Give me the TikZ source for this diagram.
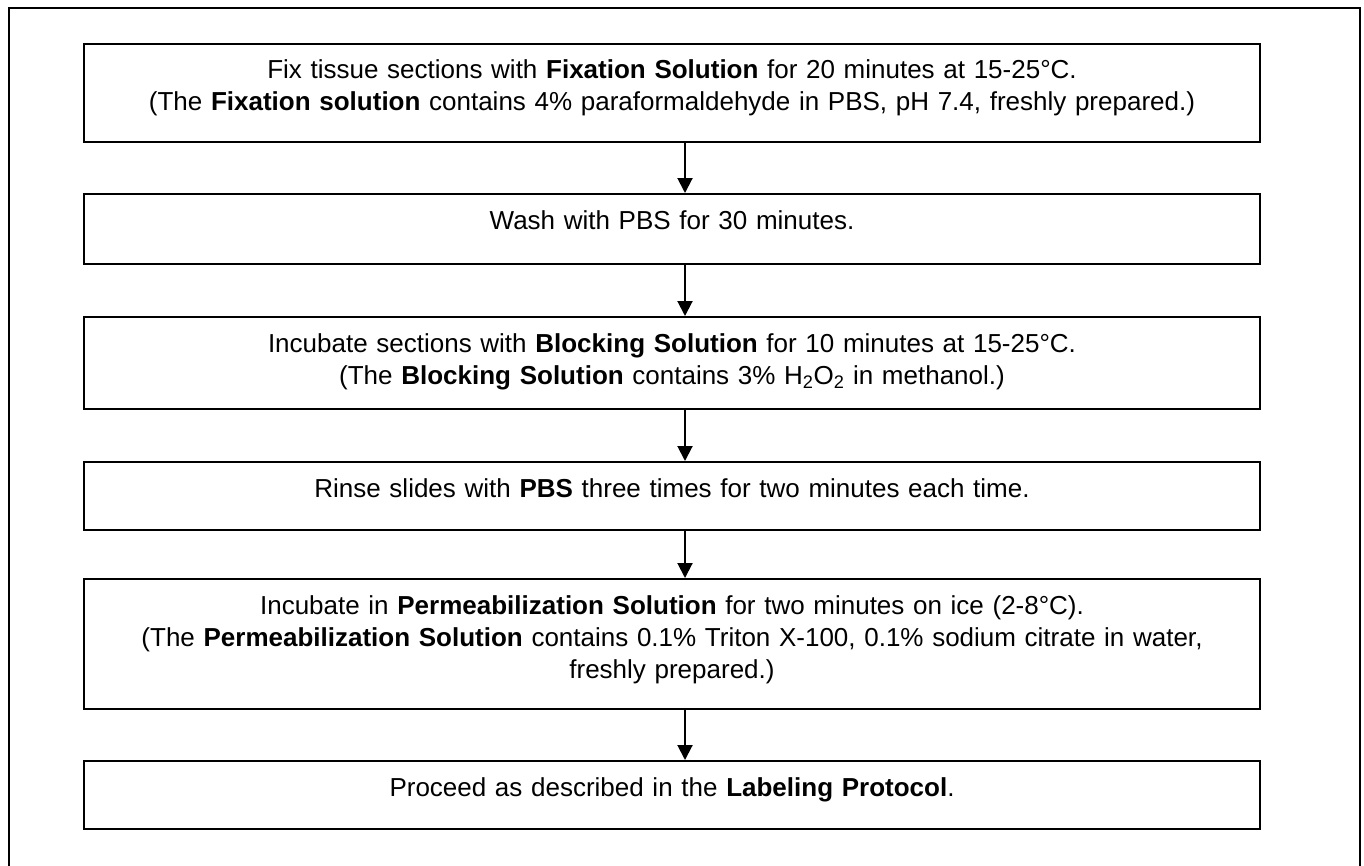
\documentclass[tikz,border=0pt]{standalone}
\usepackage{fontspec}
\setmainfont{Liberation Sans}
\usepackage{tikz}
\usetikzlibrary{arrows.meta}
\tikzset{
  frame/.style={draw=black, line width=2pt},
  stepbox/.style={draw=black, line width=2pt, inner sep=0pt, anchor=north,
    text width=1176pt, align=center, text height=35pt,
    font=\fontsize{26}{32}\selectfont},
  flow/.style={draw=black, line width=2pt, -{Triangle[length=15pt,width=15pt]}},
}

\begin{document}
\begin{tikzpicture}[x=1pt,y=-1pt]
  \useasboundingbox (0,0) rectangle (1364,865);
  \fill[white] (0,0) rectangle (1364,865);
  \draw[frame] (9,866) -- (9,7.5) -- (1360,7.5) -- (1360,866);
  \node[stepbox,text depth=63.5pt] (fix) at (672,42.5)
    {Fix tissue sections with \textbf{Fixation Solution} for 20 minutes at 15-25°C.\\
     (The \textbf{Fixation solution} contains 4\% paraformaldehyde in PBS, pH 7.4, freshly prepared.)};
  \node[stepbox,text depth=35pt] (wash) at (672,193)
    {Wash with PBS for 30 minutes.};
  \node[stepbox,text depth=57pt] (block) at (672,316)
    {Incubate sections with \textbf{Blocking Solution} for 10 minutes at 15-25°C.\\
     (The \textbf{Blocking Solution} contains 3\% H\textsubscript{2}O\textsubscript{2} in methanol.)};
  \node[stepbox,text depth=33pt] (rinse) at (672,461)
    {Rinse slides with \textbf{PBS} three times for two minutes each time.};
  \node[stepbox,text depth=95pt] (perm) at (672,578)
    {Incubate in \textbf{Permeabilization Solution} for two minutes on ice (2-8°C).\\
     (The \textbf{Permeabilization Solution} contains 0.1\% Triton X-100, 0.1\% sodium citrate in water,\\
     freshly prepared.)};
  \node[stepbox,text depth=33pt] (proceed) at (672,760)
    {Proceed as described in the \textbf{Labeling Protocol}.};
  % arrows sit a little right of the box centres
  \draw[flow] ([xshift=13pt]fix.south) -- ([xshift=13pt]wash.north);
  \draw[flow] ([xshift=13pt]wash.south) -- ([xshift=13pt]block.north);
  \draw[flow] ([xshift=13pt]block.south) -- ([xshift=13pt]rinse.north);
  \draw[flow] ([xshift=13pt]rinse.south) -- ([xshift=13pt]perm.north);
  \draw[flow] ([xshift=13pt]perm.south) -- ([xshift=13pt]proceed.north);
\end{tikzpicture}
\end{document}
